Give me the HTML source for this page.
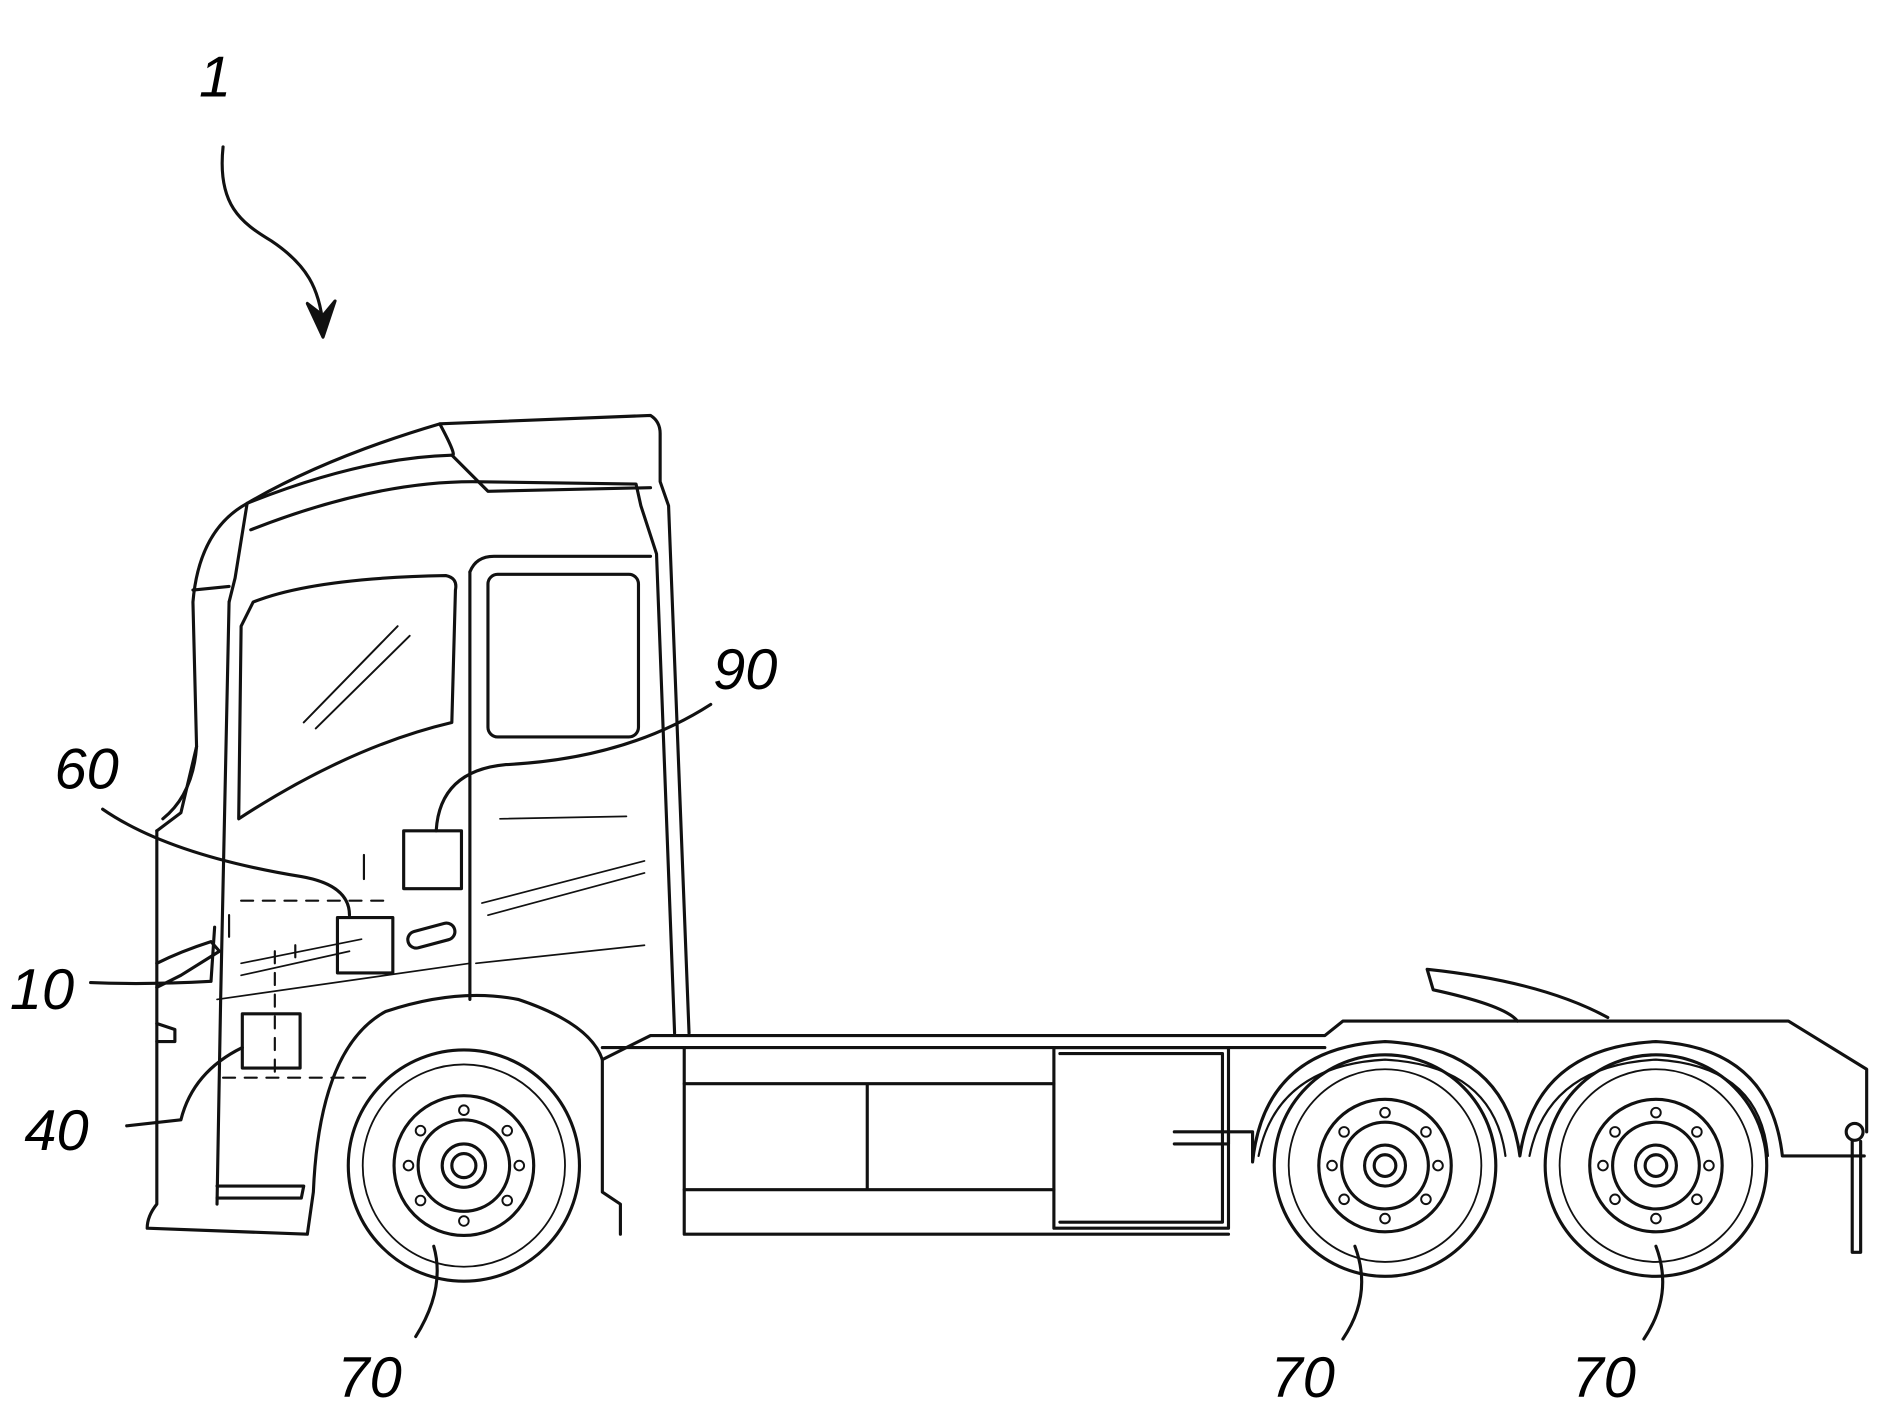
<!DOCTYPE html>
<html><head><meta charset="utf-8"><style>
html,body{margin:0;padding:0;background:#fff;}
svg{display:block}
text{font-family:"Liberation Sans",sans-serif;font-style:italic;fill:#000;}
</style></head><body>
<svg width="1879" height="1404" viewBox="0 0 1560 1166" xmlns="http://www.w3.org/2000/svg">
<g fill="none" stroke="#111" stroke-width="2.6" stroke-linejoin="round" stroke-linecap="round">
<!-- ref 1 arrow -->
<path d="M185 122 C180 170 200 185 225 200 C255 220 265 240 268 270"/>
<path d="M255 252 L268 280 L278 250 L268 262 Z" fill="#111"/>
<!-- cab outline -->
<path d="M130 690 L130 1000 Q122 1010 122 1020 L255 1025 L260 990 Q265 870 320 840 Q380 820 430 830 Q490 850 500 880 L500 990 L515 1000 L515 1025"/>
<path d="M130 690 L150 675 L163 620 L160 500 Q165 440 205 418 Q270 380 365 352 L540 345 Q548 350 548 360 L548 400 L555 420 L572 858"/>
<path d="M205 418 L195 480 L190 500"/>
<path d="M160 490 L190 487"/>
<path d="M163 620 Q160 660 135 680"/>
<path d="M365 352 Q380 380 375 378 L405 408 L540 405"/>
<path d="M205 418 Q300 380 375 378"/>
<path d="M208 440 Q310 400 392 400 L528 402 L532 420 L545 460 L560 858"/>
<!-- cab front side line -->
<path d="M190 500 L183 830 L180 1000"/>
<path d="M180 995 L250 995 L252 985 L180 985"/>
<!-- windshield -->
<path d="M210 500 Q260 480 370 478 Q380 480 378 490 L375 600 Q290 620 198 680 L200 520 Z"/>
<path d="M252 600 L330 520 M262 605 L340 528" stroke-width="1.6"/>
<!-- door -->
<path d="M390 475 Q395 462 410 462 L540 462"/>
<path d="M390 475 L390 830"/>
<rect x="405" y="477" width="125" height="135" rx="8"/>
<path d="M415 680 L520 678 M400 750 L535 715 M405 760 L535 725 M395 800 L535 785" stroke-width="1.4"/>
<path d="M200 800 L300 780 M200 810 L290 790 M180 830 L390 800" stroke-width="1.4"/>
<rect x="338" y="770" width="40" height="14" rx="7" transform="rotate(-15 358 777)"/>
<!-- bumper / lamps -->
<path d="M130 800 Q150 790 175 782 L182 790 L150 810 L130 820"/>
<path d="M130 850 L145 855 L145 865 L130 865"/>
<!-- dashed -->
<path d="M200 748 L320 748 M185 895 L310 895 M228 790 L228 890 M245 785 L245 800" stroke-dasharray="10 8" stroke-width="1.8"/>
<path d="M302 710 L302 730 M190 760 L190 778" stroke-width="1.8"/>
<!-- boxes -->
<rect x="335" y="690" width="48" height="48"/>
<rect x="280" y="762" width="46" height="46"/>
<rect x="201" y="842" width="48" height="45"/>
<!-- leader lines -->
<path d="M362 690 Q365 640 420 635 Q520 630 590 585"/>
<path d="M290 760 Q290 735 250 728 Q140 710 85 672"/>
<path d="M178 770 L175 815 Q120 818 75 816"/>
<path d="M201 870 Q160 890 150 930 L105 935"/>
<!-- chassis -->
<path d="M500 880 L540 860 L1100 860 L1115 848 L1485 848 L1550 888 L1550 940"/>
<path d="M500 870 L1100 870"/>
<path d="M568 870 L568 1025 L1020 1025"/>
<path d="M568 900 L875 900 M568 988 L875 988 M720 900 L720 988"/>
<rect x="875" y="870" width="145" height="150"/>
<path d="M880 875 L1015 875 L1015 1015 L880 1015"/>
<path d="M975 940 L1020 940 L1020 950 L975 950"/>
<path d="M1020 940 L1040 940 L1040 965 Q1050 870 1150 865 Q1250 870 1262 960 Q1275 870 1375 865 Q1470 870 1480 960 L1548 960"/>
<path d="M1045 960 Q1060 885 1150 880 Q1240 885 1250 960 M1270 960 Q1285 885 1375 880 Q1462 885 1468 960" stroke-width="1.8"/>
<path d="M1185 805 L1190 822 Q1250 835 1260 848 M1185 805 Q1280 815 1335 845"/>
<circle cx="1540" cy="940" r="7"/>
<path d="M1538 948 L1538 1040 L1545 1040 L1545 948"/>
<!-- wheels -->
<g>
<circle cx="385" cy="968" r="96"/><circle cx="385" cy="968" r="84" stroke-width="1.5"/>
<circle cx="385" cy="968" r="58"/><circle cx="385" cy="968" r="38"/><circle cx="385" cy="968" r="18"/><circle cx="385" cy="968" r="10"/>
</g>
<g>
<circle cx="1150" cy="968" r="92"/><circle cx="1150" cy="968" r="80" stroke-width="1.5"/>
<circle cx="1150" cy="968" r="55"/><circle cx="1150" cy="968" r="36"/><circle cx="1150" cy="968" r="17"/><circle cx="1150" cy="968" r="9"/>
</g>
<g>
<circle cx="1375" cy="968" r="92"/><circle cx="1375" cy="968" r="80" stroke-width="1.5"/>
<circle cx="1375" cy="968" r="55"/><circle cx="1375" cy="968" r="36"/><circle cx="1375" cy="968" r="17"/><circle cx="1375" cy="968" r="9"/>
</g>
<g stroke-width="1.6">
<circle cx="385" cy="922" r="4"/><circle cx="421" cy="939" r="4"/><circle cx="431" cy="968" r="4"/><circle cx="421" cy="997" r="4"/><circle cx="385" cy="1014" r="4"/><circle cx="349" cy="997" r="4"/><circle cx="339" cy="968" r="4"/><circle cx="349" cy="939" r="4"/>
<circle cx="1150" cy="924" r="4"/><circle cx="1184" cy="940" r="4"/><circle cx="1194" cy="968" r="4"/><circle cx="1184" cy="996" r="4"/><circle cx="1150" cy="1012" r="4"/><circle cx="1116" cy="996" r="4"/><circle cx="1106" cy="968" r="4"/><circle cx="1116" cy="940" r="4"/>
<circle cx="1375" cy="924" r="4"/><circle cx="1409" cy="940" r="4"/><circle cx="1419" cy="968" r="4"/><circle cx="1409" cy="996" r="4"/><circle cx="1375" cy="1012" r="4"/><circle cx="1341" cy="996" r="4"/><circle cx="1331" cy="968" r="4"/><circle cx="1341" cy="940" r="4"/>
</g>
<!-- 70 leaders -->
<path d="M360 1035 Q370 1070 345 1110"/>
<path d="M1125 1035 Q1140 1075 1115 1112"/>
<path d="M1375 1035 Q1390 1075 1365 1112"/>
</g>
<g font-size="48">
<text x="165" y="80">1</text>
<text x="592" y="572">90</text>
<text x="45" y="655">60</text>
<text x="8" y="838">10</text>
<text x="20" y="955">40</text>
<text x="280" y="1160">70</text>
<text x="1055" y="1160">70</text>
<text x="1305" y="1160">70</text>
</g>
</svg>
</body></html>
